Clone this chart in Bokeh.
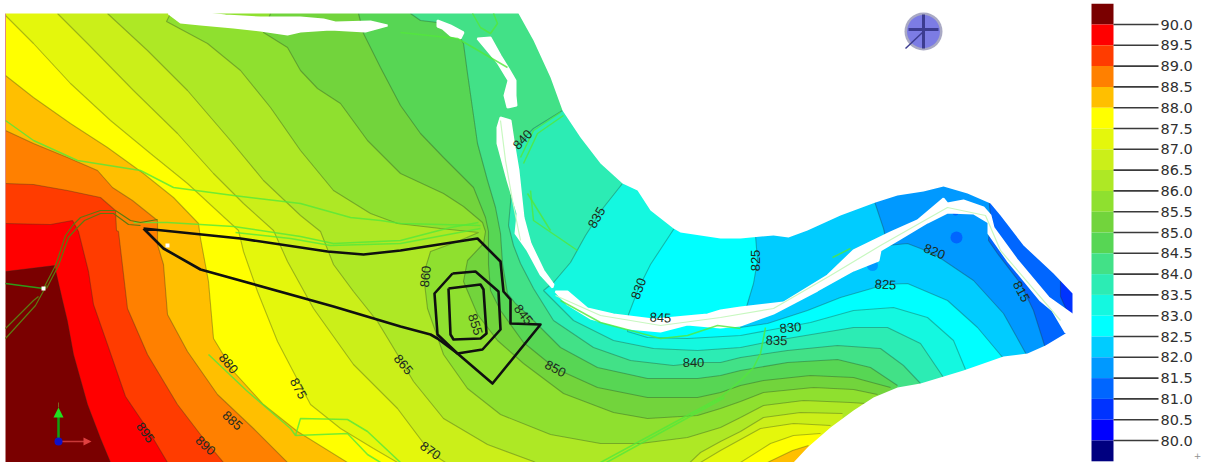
from bokeh.plotting import figure
from bokeh.models import Range1d
from bokeh.core.properties import value
from bokeh.embed import file_html
from bokeh.resources import INLINE

# ---- colour scale -------------------------------------------------------
scale_values = [90.0, 89.5, 89.0, 88.5, 88.0, 87.5, 87.0, 86.5, 86.0, 85.5, 85.0,
                84.5, 84.0, 83.5, 83.0, 82.5, 82.0, 81.5, 81.0, 80.5, 80.0]
scale_colors = ["#7a0000", "#ff0000", "#ff3c00", "#ff8000", "#ffbf00", "#ffff00", "#e4f70c",
                "#cbef19", "#aee825", "#8fe02f", "#72d43c", "#57d654", "#42e187", "#2cecb4",
                "#14f8e0", "#00ffff", "#00ccff", "#0099ff", "#0066ff", "#0033ff", "#0000ff"]
bottom_color = "#000080"

# ---- contour lines (map x, map y) ---------------------
c900 = [(5,271),(54,265),(62,300),(67,321),(73,354),(87,404),(100,438),(110,462)]
c895 = [(5,223),(50,224),(72,220),(78,231),(88,271),(93,304),(107,344),(125,396),(148,430),(167,462)]
c890 = [(5,183),(33,184),(67,190),(100,197),(115,210),(116,230),(118,231),(127,308),(147,354),(177,404),(203,438),(223,462)]
c885 = [(5,130),(33,143),(67,157),(97,170),(112,187),(132,200),(157,220),(157,244),(163,264),(167,314),(187,351),(217,394),(253,428),(287,462)]
c880 = [(5,75),(33,97),(70,123),(107,147),(143,173),(173,197),(198,223),(200,238),(208,281),(213,338),(233,371),(263,404),(297,431),(347,462),(570,550),(740,500),(767,462),(792,450),(808,445)]
c875 = [(5,15),(33,43),(70,83),(110,120),(150,153),(187,183),(213,207),(238,230),(243,251),(257,291),(277,341),(310,404),(340,428),(373,448),(397,462),(570,530),(720,490),(740,462),(770,443),(793,435),(820,433)]
c870 = [(57,13),(87,43),(133,90),(177,133),(213,173),(243,203),(273,230),(287,261),(313,308),(353,364),(397,408),(430,452),(445,462),(570,510),(690,480),(700,462),(720,450),(760,428),(793,423),(830,425)]
c865 = [(107,13),(147,50),(187,90),(230,140),(263,180),(300,215),(320,231),(333,264),(353,291),(377,321),(397,354),(413,381),(443,418),(487,444),(533,461),(600,500),(660,490),(700,452),(720,441),(740,431),(763,417),(800,412),(842,413)]
c860 = [(170,13),(166,21),(207,43),(240,70),(270,107),(300,150),(333,190),(370,213),(397,223),(440,228),(478,232),(457,241),(430,251),(423,274),(427,308),(443,354),(467,388),(500,414),(550,434),(600,443),(640,443),(687,437),(720,427),(740,417),(763,405),(803,400),(850,402),(865,403)]
c855 = [(270,13),(263,32),(287,47),(300,70),(317,88),(340,103),(367,140),(400,173),(443,193),(463,206),(482,222),(485,231),(483,243),(467,260),(463,281),(477,314),(497,340),(523,363),(563,393),(613,412),(647,418),(697,415),(720,408),(740,401),(763,392),(813,387),(853,389),(877,394)]
c850 = [(358,13),(363,33),(380,67),(400,105),(420,133),(443,157),(473,187),(485,217),(488,231),(488,264),(490,290),(500,310),(523,342),(555,368),(597,387),(647,397),(697,397),(720,392),(740,385),(763,380),(810,375),(853,377),(890,387)]
c845 = [(410,13),(420,20),(437,22),(455,30),(463,43),(467,73),(477,143),(487,180),(495,207),(500,233),(502,263),(507,293),(515,303),(528,315),(533,320),(560,347),(597,367),(647,378),(697,378),(720,375),(740,370),(787,362),(837,359),(870,367),(897,385)]
c840 = [(562,110),(533,128),(522,139),(515,147),(512,180),(508,225),(513,245),(520,263),(533,288),(553,320),(593,347),(630,360),(673,365),(700,362),(720,362),(740,357),(787,350),(837,345),(880,348),(903,365),(920,383)]
c835 = [(622,183),(603,207),(585,235),(570,262),(553,282),(543,290),(573,320),(613,340),(653,348),(697,350),(740,347),(775,340),(853,327),(887,327),(920,343),(943,377)]
c830 = [(675,226),(650,264),(638,288),(628,314),(627,331),(647,337),(687,338),(740,335),(810,322),(853,310),(893,307),(927,317),(953,340),(965,369)]
c825 = [(755,235),(757,260),(753,283),(747,303),(740,327),(767,323),(807,310),(840,297),(885,284),(907,283),(947,300),(977,327),(1003,358)]
c820 = [(873,198),(883,228),(887,245),(907,243),(933,253),(973,280),(1003,313),(1027,356)]
c815 = [(988,195),(990,215),(988,240),(997,253),(1020,283),(1033,310),(1045,348)]
c810 = [(1060,280),(1060,296),(1070,318),(1080,345)]
contours = [c810, c815, c820, c825, c830, c835, c840, c845, c850, c855, c860, c865, c870, c875, c880, c885, c890, c895, c900]
contour_fill = ["#0066ff", "#0099ff", "#00ccff", "#00ffff", "#14f8e0", "#2cecb4", "#42e187", "#57d654", "#72d43c",
                "#8fe02f", "#aee825", "#cbef19", "#e4f70c", "#ffff00", "#ffbf00", "#ff8000", "#ff3c00", "#ff0000", "#7a0000"]
base_fill = "#0033ff"
blob_x = [956, 872, 955]
blob_y = [237, 265, 212]
blob_s = [12, 11, 6]
blob_c = ["#0066ff", "#0099ff", "#0066ff"]

# ---- outside of the model ------------------------------------------------
outside = [(518,13),(533,40),(550,77),(562,110),(580,137),(600,163),(622,183),(637,190),(650,210),(673,228),(680,232),(720,238),(740,238),
           (773,235),(788,237),(807,230),(840,215),(875,202),(897,195),(923,191),(943,186),(967,193),(990,203),(1000,215),(1023,245),(1053,273),
           (1072,293),(1072,315),(1065,333),(1045,345),(1027,353),(1003,356),(983,363),(963,370),(920,383),(897,387),(873,397),(853,410),(830,427),
           (807,447),(793,462),(790,480),(1088,480),(1088,-10),(518,-10)]
strip_left = [(-10,-10),(5,-10),(5,480),(-10,480)]
strip_top = [(-10,-10),(530,-10),(530,13),(-10,13)]

# ---- river (white) -------------------------------------------------------
river_a = [(168,13),(180,22),(200,24),(233,27),(260,30),(287,34),(300,31),(330,29),(365,31),(387,25),(370,21),(335,22),(323,19),(300,17),(260,17),(225,15),(207,13)]
river_b = [(437,20),(450,25),(463,32),(460,38),(450,35),(442,28),(437,26)]
river_c = [(477,38),(490,37),(500,55),(508,68),(515,80),(515,95),(516,105),(507,107),(504,95),(508,80),(497,62),(487,50)]
river_d = [(497,127),(500,117),(510,120),(513,140),(518,170),(523,217),(530,243),(543,270),(553,284),(552,287),(540,274),(527,250),(515,233),(517,213),(507,180),(497,143)]
river_e = [(555,291),(567,291),(587,308),(613,314),(653,319),(707,314),(720,310),(740,307),(783,302),(827,275),(853,250),(890,232),(917,220),(943,198),(947,203),
           (963,200),(983,207),(990,215),(993,227),(1017,260),(1048,297),(1072,314),(1072,316),(1065,332),(1052,310),(1040,300),(1007,260),(988,233),(988,222),(973,213),
           (947,212),(927,222),(897,240),(880,250),(878,260),(853,270),(817,290),(773,313),(740,325),(720,327),(687,324),(660,331),(627,328),(590,318),(567,304)]
rivers = [river_a, river_b, river_c, river_d, river_e]

# ---- thin green and olive lines ------------------------------------------
green_a = [(5,120),(33,140),(77,160),(140,170),(173,187),(233,195),(300,203),(350,217),(380,220),(400,223),(480,225)]
green_b = [(133,222),(167,222),(233,226),(300,236),(333,243),(400,240),(450,227),(478,222)]
green_c = [(235,232),(290,238),(330,245),(400,243),(480,228)]
green_d = [(208,354),(247,391),(290,428),(295,435),(300,418),(347,419),(367,431),(400,462)]
green_e = [(295,435),(347,433),(367,454),(380,462)]
green_f = [(600,462),(720,397),(740,380),(753,367),(760,353),(765,327)]
green_g = [(606,462),(724,397)]
green_h = [(400,32),(457,38),(507,67)]
green_i = [(472,13),(480,27),(490,33),(497,23),(493,13)]
green_j = [(520,157),(533,130),(560,112)]
green_k = [(523,163),(537,133),(563,115)]
green_l = [(527,193),(550,230)]
green_m = [(530,190),(533,220),(577,250)]
green_n = [(832,257),(850,248)]
green_o = [(560,300),(600,322),(660,338),(687,335),(717,325),(740,328)]
green_lines = [green_a, green_b, green_c, green_d, green_e, green_f, green_g, green_h, green_i, green_j, green_k, green_l, green_m, green_n, green_o]
pale_a = [(555,295),(600,315),(660,325),(720,317),(773,308),(830,275),(880,245),(917,224),(947,207),(985,215),(1000,250),(1060,320)]
pale_b = [(500,120),(505,160),(512,200),(520,240)]
pale_lines = [pale_a, pale_b]
olive_a = [(5,283),(43,288)]
olive_b = [(43,288),(55,265),(65,235),(72,225),(80,217),(100,210),(115,210),(130,220),(140,222),(157,219)]
olive_c = [(46,288),(58,265),(68,237),(76,228),(84,220),(100,213),(113,213),(128,224),(140,225)]
olive_d = [(5,338),(35,305),(46,285)]
olive_e = [(5,328),(33,300),(38,296)]
olive_lines = [olive_b, olive_c, olive_d, olive_e]

# ---- black outlines ------------------------------------------------------
outline = [(143,228),(240,238),(327,251),(363,254),(400,250),(477,238),(500,261),(503,291),(510,299),(510,323),(540,324),(492,383),(457,353),
           (437,338),(430,334),(400,326),(333,306),(200,269),(163,248),(143,228)]
octagon = [(452,273),(475,271),(498,291),(500,329),(482,349),(457,353),(437,334),(434,293),(452,273)]
inner_box = [(448,288),(480,284),(483,289),(486,333),(480,338),(453,339),(450,334),(448,288)]
black_lines = [outline, octagon, inner_box]

# ---- contour labels --------------------------------------------------------
label_text = ["840","835","830","825","820","825","815","830","835","840","850","845","855","860","865","870","875","880","885","890","895","845"]
label_x    = [522,596,638,755,934,885,1021,790,776,693,555,523,475,425,403,430,298,228,232,205,145,660]
label_y    = [139,217,288,260,251,284,291,327,340,362,368,314,324,276,364,450,388,363,420,445,432,317]
label_deg  = [47,60,70,90,-22,-3,-62,5,-2,0,-28,-52,-72,84,-50,-35,-62,-50,-42,-42,-55,-3]


def xs(path):
    return [pt[0] for pt in path]


def ys(path):
    return [pt[1] for pt in path]


p = figure(width=1208, height=462, x_range=Range1d(0, 1208), y_range=Range1d(462, 0),
           output_backend="svg", toolbar_location=None, min_border=0,
           background_fill_color="white", border_fill_color="white", outline_line_color=None)
p.margin = (0, 0, 0, 0)
p.xaxis.visible = False
p.yaxis.visible = False
p.grid.visible = False
p.extra_y_ranges = {"scale": Range1d(80 - 22 / 41.6, 90 + 24 / 41.6)}

# fills, low to high: each covers the high side of its contour
p.patch([2, 1085, 1085, 2], [5, 5, 600, 600], fill_color=base_fill, line_color=None)
for path, col in zip(contours, contour_fill):
    px = xs(path) + [path[-1][0], 2, 2, path[0][0]]
    py = ys(path) + [600, 600, 5, 5]
    p.patch(px, py, fill_color=col, line_color=None)
p.scatter(blob_x, blob_y, size=blob_s, color=blob_c, marker="circle", line_color=None)

p.multi_line([xs(c) for c in contours], [ys(c) for c in contours],
             line_color="#203020", line_alpha=0.32, line_width=1.1)

# outside and river
for mask in (outside, strip_left, strip_top):
    p.patch(xs(mask), ys(mask), fill_color="white", line_color=None)
p.patches([xs(r) for r in rivers], [ys(r) for r in rivers], fill_color="white", line_color="white", line_width=2)

p.multi_line([xs(c) for c in pale_lines], [ys(c) for c in pale_lines], line_color="#c8f8c0", line_width=1.2)
p.multi_line([xs(c) for c in green_lines], [ys(c) for c in green_lines], line_color="#52e83a", line_alpha=0.8, line_width=1.5)
p.multi_line([xs(olive_a)], [ys(olive_a)], line_color="#2f9a18", line_width=1.5)
p.multi_line([xs(c) for c in olive_lines], [ys(c) for c in olive_lines], line_color="#5d7a10", line_width=1.2)
p.scatter([43, 167], [288, 245], size=4, color="white", marker="square", line_color=None)

p.multi_line([xs(c) for c in black_lines], [ys(c) for c in black_lines], line_color="#101010", line_width=2.6, line_join="round")

p.text(label_x, label_y, text=label_text, angle=label_deg, angle_units="deg",
       text_font=value("Liberation Sans"), text_font_size="13px", text_color="#1c2c20",
       text_align="center", text_baseline="middle")

# compass
p.scatter([923], [31], size=38, color="#a9a9c4", marker="circle", line_color=None)
p.scatter([923], [31], size=33, color="#7c7ce4", marker="circle", line_color=None)
p.segment([923, 908, 923], [14, 29, 31], [923, 938, 905], [48, 29, 48], line_color="#3c3c90", line_width=[3, 3, 1.5])

# axis triad
p.segment([58], [441], [58], [412], line_color="#10a010", line_width=2.5)
p.segment([58], [441], [84], [441], line_color="#c83838", line_width=1.5)
p.segment([58], [407], [58], [402], line_color="#806020", line_width=1)
p.patch([53, 58, 63], [417, 407, 417], fill_color="#20e020", line_color=None)
p.patch([83, 91, 83], [437, 441, 445], fill_color="#e04040", line_color=None)
p.scatter([58], [441], size=8, color="#1010c8", marker="circle", line_color=None)

# colour scale, drawn on its own value range
p.quad(left=1091, right=1113, top=[v + 0.5 for v in scale_values], bottom=scale_values,
       fill_color=scale_colors, line_color=None, y_range_name="scale")
p.quad(left=1091, right=1113, top=[80.0], bottom=[79.5], fill_color=bottom_color, line_color=None, y_range_name="scale")
p.segment(x0=1113, x1=1158, y0=scale_values, y1=scale_values, line_color="#3a3a3a", line_width=1.6, y_range_name="scale")
p.text(x=1160, y=scale_values, text=["%.1f" % v for v in scale_values], y_range_name="scale",
       text_font=value("DejaVu Sans"), text_font_size="14.5px", text_color="#303030",
       text_align="left", text_baseline="middle")
p.text(x=[1197], y=[455], text=["+"], text_font=value("DejaVu Sans"), text_font_size="9px",
       text_color="#909090", text_align="center", text_baseline="middle")

open("out.html", "w").write(file_html(p, INLINE))
